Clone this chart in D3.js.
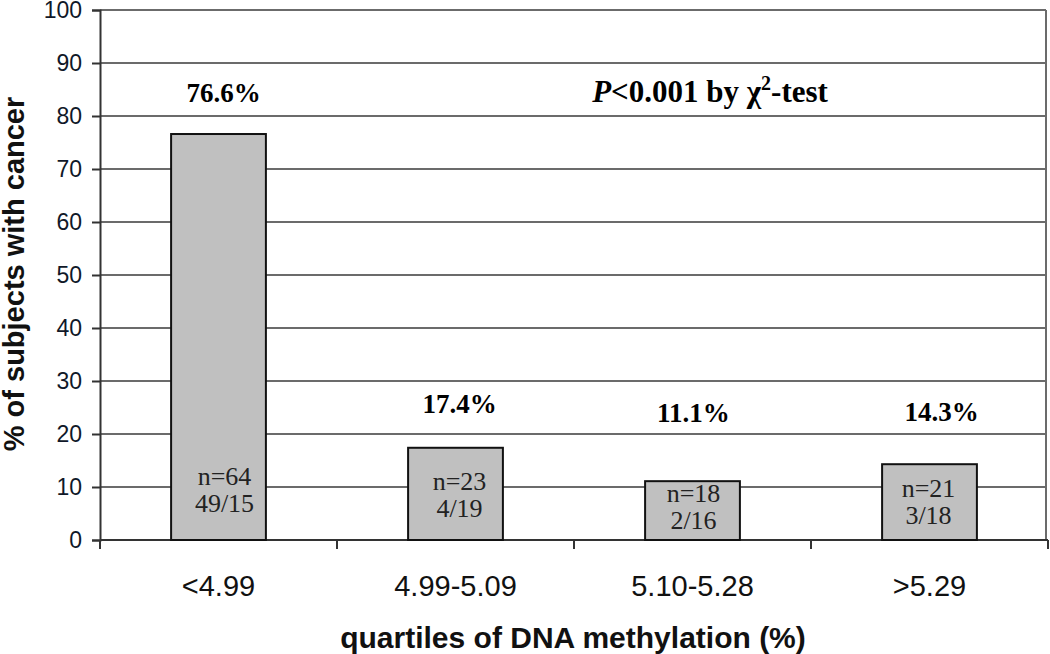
<!DOCTYPE html>
<html>
<head>
<meta charset="utf-8">
<script src="https://cdn.jsdelivr.net/npm/d3@7"></script>
<style>
  body { margin: 0; background: #fff; }
</style>
</head>
<body>
<div id="chart"><svg id="svg1" width="1050" height="654"></svg></div>
<script>
// data
var quartiles = ["<4.99", "4.99-5.09", "5.10-5.28", ">5.29"];
var pctCancer = [76.6, 17.4, 11.1, 14.3];
var nTotal = [64, 23, 18, 21];
var ratioLabels = ["49/15", "4/19", "2/16", "3/18"];
var yTicks = [0, 10, 20, 30, 40, 50, 60, 70, 80, 90, 100];

var LEFT = 100, RIGHT = 1048, TOP = 10, BOTTOM = 540;
var GRID_COL = "#6b6b6b";
var SERIF = "'Liberation Serif', 'Times New Roman', serif";
var SANS = "'Liberation Sans', Arial, sans-serif";

function chart1() {
    var svg = d3.select("#svg1");

    var scaleX = d3.scaleBand()
        .domain(quartiles)
        .range([LEFT, RIGHT])
        .paddingInner(0.6)
        .paddingOuter(0.3);
    var band = d3.scaleBand().domain(quartiles).range([LEFT, RIGHT]);
    function mid(i) { return band(quartiles[i]) + band.bandwidth() / 2; }

    var scaleY = d3.scaleLinear()
        .domain([0, 100])
        .range([BOTTOM, TOP]);

    // gridlines
    svg.append("g")
        .selectAll("line")
        .data(yTicks.filter(function(d) { return d > 0; }))
        .enter()
        .append("line")
        .attr("x1", LEFT).attr("x2", RIGHT - 2)
        .attr("y1", function(d) { return scaleY(d); })
        .attr("y2", function(d) { return scaleY(d); })
        .attr("stroke", GRID_COL)
        .attr("stroke-width", 2);

    // right border
    svg.append("line")
        .attr("x1", RIGHT - 2).attr("x2", RIGHT - 2)
        .attr("y1", TOP).attr("y2", BOTTOM)
        .attr("stroke", GRID_COL)
        .attr("stroke-width", 2);

    // y axis
    var yAxis = d3.axisLeft(scaleY).tickValues(yTicks).tickSize(8).tickPadding(10);
    var gy = svg.append("g")
        .attr("transform", "translate(" + LEFT + ",0)")
        .call(yAxis);
    gy.select(".domain").attr("stroke", "#333").attr("stroke-width", 2);
    gy.selectAll(".tick line").attr("stroke", "#333").attr("stroke-width", 2);
    gy.selectAll("text")
        .style("font-family", SANS)
        .style("font-size", "23px")
        .style("fill", "#101828");

    // x axis (ticks on category boundaries)
    var boundaries = quartiles.map(function(q) { return band(q); }).concat([RIGHT]);
    var gx = svg.append("g");
    gx.append("line")
        .attr("x1", LEFT).attr("x2", RIGHT)
        .attr("y1", BOTTOM).attr("y2", BOTTOM)
        .attr("stroke", "#333").attr("stroke-width", 2);
    gx.selectAll(".bt")
        .data(boundaries)
        .enter()
        .append("line")
        .attr("x1", function(d) { return d; })
        .attr("x2", function(d) { return d; })
        .attr("y1", BOTTOM).attr("y2", BOTTOM + 9)
        .attr("stroke", "#333").attr("stroke-width", 2);
    gx.selectAll(".xl")
        .data(quartiles)
        .enter()
        .append("text")
        .attr("x", function(d, i) { return mid(i); })
        .attr("y", 596)
        .attr("text-anchor", "middle")
        .style("font-family", SANS)
        .style("font-size", "29px")
        .style("fill", "#111")
        .text(function(d) { return d; });

    // bars
    svg.append("g")
        .selectAll("rect")
        .data(pctCancer)
        .enter()
        .append("rect")
        .attr("x", function(d, i) { return scaleX(quartiles[i]); })
        .attr("width", scaleX.bandwidth())
        .attr("y", function(d) { return scaleY(d); })
        .attr("height", function(d) { return scaleY(0) - scaleY(d); })
        .attr("fill", "#c0c0c0")
        .attr("stroke", "#111")
        .attr("stroke-width", 2);

    // percent labels above bars (hand placed like the original)
    var pctY = [102, 413, 422, 421];
    var pctDx = [5, 4, 1, 12];
    svg.append("g")
        .selectAll("text")
        .data(pctCancer)
        .enter()
        .append("text")
        .attr("x", function(d, i) { return mid(i) + pctDx[i]; })
        .attr("y", function(d, i) { return pctY[i]; })
        .attr("text-anchor", "middle")
        .style("font-family", SERIF)
        .style("font-weight", "bold")
        .style("font-size", "27px")
        .text(function(d) { return d.toFixed(1) + "%"; });

    // n labels inside bars
    var nY = [485, 490, 502, 497];
    var nDx = [6, 4, 1, -1];
    var inner = svg.append("g");
    nTotal.forEach(function(n, i) {
        var cx = mid(i) + nDx[i];
        inner.append("text")
            .attr("x", cx).attr("y", nY[i])
            .attr("text-anchor", "middle")
            .style("font-family", SERIF)
            .style("font-size", "26px")
            .style("fill", "#222")
            .text("n=" + n);
        inner.append("text")
            .attr("x", cx).attr("y", nY[i] + 27)
            .attr("text-anchor", "middle")
            .style("font-family", SERIF)
            .style("font-size", "26px")
            .style("fill", "#222")
            .text(ratioLabels[i]);
    });

    // P value note
    var note = svg.append("text")
        .attr("x", 710).attr("y", 102)
        .attr("text-anchor", "middle")
        .style("font-family", SERIF)
        .style("font-weight", "bold")
        .style("font-size", "31px");
    note.append("tspan").style("font-style", "italic").text("P");
    note.append("tspan").text("<0.001 by \u03C7");
    note.append("tspan").attr("dy", -12).style("font-size", "20px").text("2");
    note.append("tspan").attr("dy", 12).text("-test");

    // axis titles
    svg.append("text")
        .attr("x", 573).attr("y", 648)
        .attr("text-anchor", "middle")
        .style("font-family", SANS)
        .style("font-weight", "bold")
        .style("font-size", "30px")
        .style("fill", "#111")
        .text("quartiles of DNA methylation (%)");

    svg.append("text")
        .attr("transform", "rotate(-90)")
        .attr("x", -274).attr("y", 24)
        .attr("text-anchor", "middle")
        .style("font-family", SANS)
        .style("font-weight", "bold")
        .style("font-size", "29px")
        .style("fill", "#111")
        .text("% of subjects with cancer");
}

chart1();
</script>
</body>
</html>
